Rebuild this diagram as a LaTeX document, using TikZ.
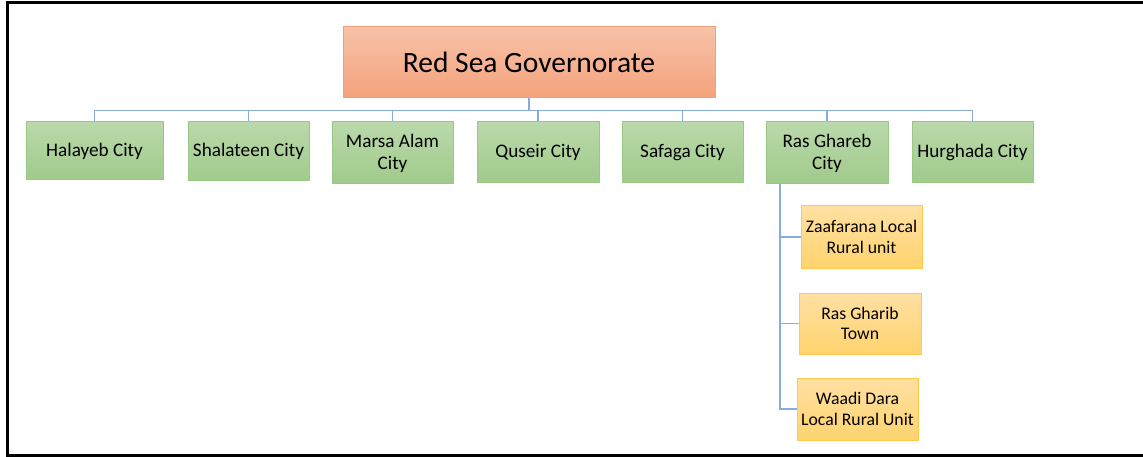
\documentclass[tikz,border=0pt]{standalone}
\usepackage{fontspec}
\setmainfont{Carlito}
\usepackage{tikz}

\definecolor{rootTop}{HTML}{F8C2A8}
\definecolor{rootBot}{HTML}{F4A27C}
\definecolor{rootLine}{HTML}{F1A07C}
\definecolor{cityTop}{HTML}{BAD9AB}
\definecolor{cityBot}{HTML}{A0CA8B}
\definecolor{cityLine}{HTML}{98C884}
\definecolor{unitTop}{HTML}{FFE0A3}
\definecolor{unitBot}{HTML}{FFD36E}
\definecolor{unitLine}{HTML}{FFC94D}
\definecolor{linkBlue}{HTML}{86ACDA}

\begin{document}
\begin{tikzpicture}[x=1pt,y=-1pt,
    box/.style={draw,line width=1pt,inner sep=0pt,align=center},
    govbox/.style={box,draw=rootLine,top color=rootTop,bottom color=rootBot,
        minimum width=372pt,minimum height=71pt,font=\fontsize{29.5}{34}\selectfont},
    citybox/.style={box,draw=cityLine,top color=cityTop,bottom color=cityBot,
        minimum width=121pt,minimum height=61pt,font=\fontsize{19.2}{22}\selectfont},
    unitbox/.style={box,draw=unitLine,top color=unitTop,bottom color=unitBot,
        minimum width=121pt,minimum height=61pt,font=\fontsize{17.7}{20.5}\selectfont},
    link/.style={draw=linkBlue,line width=1.5pt}]
    \useasboundingbox (0,0) rectangle (1143,457);

    % Outer frame (right side cut off)
    \draw[line width=3pt] (1143,3) -- (7,3) -- (7,455) -- (1143,455);

    % Governorate
    \node[govbox] (gov) at (529,62.5) {Red Sea Governorate};

    % Cities
    \node[citybox,minimum width=137pt,minimum height=58pt] (halayeb) at (94.5,151) {Halayeb City};
    \node[citybox,minimum height=59pt] (shalateen) at (248.5,151.5) {Shalateen City};
    \node[citybox,minimum height=62pt] (marsa) at (392.5,153) {Marsa Alam\\City};
    \node[citybox,minimum width=122pt] (quseir) at (538,152.5) {Quseir City};
    \node[citybox] (safaga) at (682.5,152.5) {Safaga City};
    \node[citybox,minimum width=122pt,minimum height=62pt] (rasghareb) at (827,153) {Ras Ghareb\\City};
    \node[citybox] (hurghada) at (972.5,152.5) {Hurghada City};

    % Units under Ras Ghareb
    \node[unitbox,minimum height=62pt] (zaafarana) at (861.5,237) {Zaafarana Local\\Rural unit};
    \node[unitbox,minimum width=122pt] (rasgharib) at (860,323.5) {Ras Gharib\\Town};
    \node[unitbox,minimum height=62pt] (waadi) at (857.5,409) {Waadi Dara\\Local Rural Unit};

    % Links
    \foreach \c in {halayeb,shalateen,marsa,quseir,safaga,rasghareb,hurghada}
        \draw[link] (gov.south) -- ++(0,12) -| (\c.north);
    \foreach \u in {zaafarana,rasgharib,waadi}
        \draw[link] ([xshift=-47pt]rasghareb.south) |- (\u.west);
\end{tikzpicture}
\end{document}
